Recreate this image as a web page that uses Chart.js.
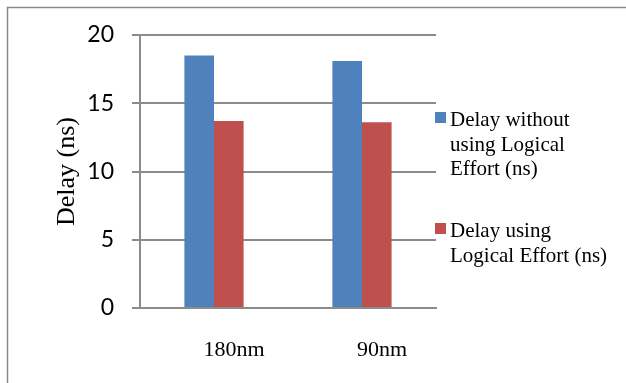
<!DOCTYPE html>
<html>
<head>
<meta charset="utf-8">
<script src="https://cdn.jsdelivr.net/npm/chart.js@4.4.0/dist/chart.umd.min.js"></script>
<style>
  html, body { margin: 0; padding: 0; background: #fff; }
  #wrap { width: 626px; height: 383px; position: relative; }
</style>
</head>
<body>
<div id="wrap"><canvas id="chart" width="626" height="383"></canvas></div>
<script>
const categories = ['180nm', '90nm']
const seriesNames = ['Delay without using Logical Effort (ns)', 'Delay using Logical Effort (ns)']
const withoutLE = [18.5, 18.1]
const withLE = [13.7, 13.6]
const yTicks = [0, 5, 10, 15, 20]

const colors = ['#4F81BD', '#C0504D']
const gridColor = '#8c8c8c'
const serif = "'Liberation Serif', 'Times New Roman', serif"

function wrapText(ctx, text, maxWidth) {
    const words = text.split(' ')
    const lines = []
    let line = ''
    words.forEach(word => {
        const test = line ? line + ' ' + word : word
        if (ctx.measureText(test).width > maxWidth && line) {
            lines.push(line)
            line = word
        } else {
            line = test
        }
    })
    if (line) lines.push(line)
    return lines
}

// outer frame (top and left edges only, like the cropped original)
const framePlugin = {
    id: 'frame',
    beforeDraw(chart) {
        const ctx = chart.ctx
        ctx.save()
        ctx.strokeStyle = '#8a8a8a'
        ctx.lineWidth = 1.5
        ctx.beginPath()
        ctx.moveTo(626, 7.5)
        ctx.lineTo(7.5, 7.5)
        ctx.lineTo(7.5, 383)
        ctx.stroke()
        ctx.restore()
    }
}

// legend on the right with wrapped labels
const legendPlugin = {
    id: 'sideLegend',
    afterDraw(chart) {
        const ctx = chart.ctx
        const area = chart.chartArea
        const boxX = area.right - 1
        const textX = boxX + 15
        const starts = [126, 237]
        ctx.save()
        ctx.font = '21px ' + serif
        ctx.textBaseline = 'alphabetic'
        chart.data.datasets.forEach((ds, i) => {
            const lines = wrapText(ctx, ds.label, 163)
            ctx.fillStyle = ds.backgroundColor
            ctx.fillRect(boxX, starts[i] - 14, 11, 11)
            ctx.fillStyle = '#000'
            lines.forEach((ln, j) => {
                ctx.fillText(ln, textX, starts[i] + j * 24.5)
            })
        })
        ctx.restore()
    }
}

new Chart(document.getElementById('chart').getContext('2d'), {
    type: 'bar',
    data: {
        labels: categories,
        datasets: [
            { label: seriesNames[0], data: withoutLE, backgroundColor: colors[0] },
            { label: seriesNames[1], data: withLE, backgroundColor: colors[1] }
        ]
    },
    options: {
        responsive: false,
        animation: false,
        devicePixelRatio: 1,
        layout: { padding: { left: 0, top: 35, right: 190, bottom: 0 } },
        datasets: { bar: { categoryPercentage: 0.4, barPercentage: 1.0 } },
        plugins: {
            legend: { display: false },
            tooltip: { enabled: false }
        },
        scales: {
            x: {
                grid: { display: false, drawTicks: false },
                border: { display: true, color: gridColor, width: 2 },
                ticks: {
                    color: '#000',
                    padding: 29,
                    labelOffset: 20,
                    font: { family: serif, size: 22 }
                },
                afterFit(scale) { scale.height = 75 }
            },
            y: {
                min: 0,
                max: 20,
                afterBuildTicks(scale) { scale.ticks = yTicks.map(v => ({ value: v })) },
                grid: { color: gridColor, lineWidth: 2, tickLength: 8 },
                border: { display: true, color: gridColor, width: 2 },
                ticks: {
                    color: '#000',
                    padding: 18,
                    font: { family: "Lato, 'Liberation Sans', sans-serif", size: 23 }
                },
                title: {
                    display: true,
                    text: 'Delay (ns)',
                    color: '#000',
                    padding: { top: 52, bottom: 0 },
                    font: { family: serif, size: 26 }
                },
                afterFit(scale) { scale.width = 140 }
            }
        }
    },
    plugins: [framePlugin, legendPlugin]
})
</script>
</body>
</html>
